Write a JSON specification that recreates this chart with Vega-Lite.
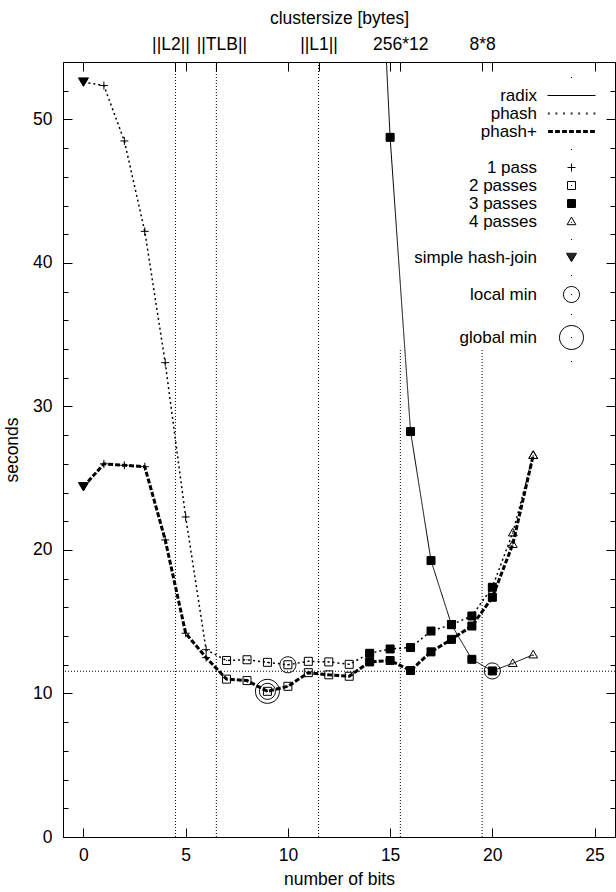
{
  "$schema": "https://vega.github.io/schema/vega-lite/v6.json",
  "width": 552,
  "height": 775,
  "autosize": {"type": "none"},
  "padding": {"left": 63, "top": 62, "right": 1, "bottom": 55},
  "background": "white",
  "config": {
    "view": {"stroke": "black", "strokeWidth": 1, "fill": "white"},
    "font": "Liberation Sans",
    "axis": {
      "grid": false, "domain": false, "tickColor": "black", "tickWidth": 1,
      "labelColor": "black", "titleColor": "black",
      "labelFont": "Liberation Sans", "titleFont": "Liberation Sans",
      "labelFontSize": 17.5, "titleFontSize": 17.5, "titleFontWeight": "normal",
      "labelOverlap": false, "labelFlush": false
    },
    "legend": {
      "padding": 0,
      "labelFontSize": 17,
      "labelFont": "Liberation Sans", "labelColor": "black", "labelLimit": 400
    }
  },
  "datasets": {
    "pts": [
      {"algo": "radix", "bits": 14, "sec": 78, "marker": "3 passes"},
      {"algo": "radix", "bits": 15, "sec": 48.75, "marker": "3 passes"},
      {"algo": "radix", "bits": 16, "sec": 28.25, "marker": "3 passes"},
      {"algo": "radix", "bits": 17, "sec": 19.26, "marker": "3 passes"},
      {"algo": "radix", "bits": 18, "sec": 14.8, "marker": "3 passes"},
      {"algo": "radix", "bits": 19, "sec": 12.38, "marker": "3 passes"},
      {"algo": "radix", "bits": 20, "sec": 11.57, "marker": "3 passes"},
      {"algo": "radix", "bits": 21, "sec": 12.1, "marker": "4 passes"},
      {"algo": "radix", "bits": 22, "sec": 12.7, "marker": "4 passes"},
      {"algo": "phash", "bits": 0, "sec": 52.6, "marker": "simple hash-join"},
      {"algo": "phash", "bits": 1, "sec": 52.36, "marker": "1 pass"},
      {"algo": "phash", "bits": 2, "sec": 48.5, "marker": "1 pass"},
      {"algo": "phash", "bits": 3, "sec": 42.2, "marker": "1 pass"},
      {"algo": "phash", "bits": 4, "sec": 33.05, "marker": "1 pass"},
      {"algo": "phash", "bits": 5, "sec": 22.3, "marker": "1 pass"},
      {"algo": "phash", "bits": 6, "sec": 13.05, "marker": "1 pass"},
      {"algo": "phash", "bits": 7, "sec": 12.3, "marker": "2 passes"},
      {"algo": "phash", "bits": 8, "sec": 12.35, "marker": "2 passes"},
      {"algo": "phash", "bits": 9, "sec": 12.17, "marker": "2 passes"},
      {"algo": "phash", "bits": 10, "sec": 12.0, "marker": "2 passes"},
      {"algo": "phash", "bits": 11, "sec": 12.24, "marker": "2 passes"},
      {"algo": "phash", "bits": 12, "sec": 12.2, "marker": "2 passes"},
      {"algo": "phash", "bits": 13, "sec": 12.03, "marker": "2 passes"},
      {"algo": "phash", "bits": 14, "sec": 12.8, "marker": "3 passes"},
      {"algo": "phash", "bits": 15, "sec": 13.1, "marker": "3 passes"},
      {"algo": "phash", "bits": 16, "sec": 13.2, "marker": "3 passes"},
      {"algo": "phash", "bits": 17, "sec": 14.35, "marker": "3 passes"},
      {"algo": "phash", "bits": 18, "sec": 14.8, "marker": "3 passes"},
      {"algo": "phash", "bits": 19, "sec": 15.4, "marker": "3 passes"},
      {"algo": "phash", "bits": 20, "sec": 17.4, "marker": "3 passes"},
      {"algo": "phash", "bits": 21, "sec": 21.2, "marker": "4 passes"},
      {"algo": "phash", "bits": 22, "sec": 26.6, "marker": "4 passes"},
      {"algo": "phash+", "bits": 0, "sec": 24.4, "marker": "simple hash-join"},
      {"algo": "phash+", "bits": 1, "sec": 26.0, "marker": "1 pass"},
      {"algo": "phash+", "bits": 2, "sec": 25.9, "marker": "1 pass"},
      {"algo": "phash+", "bits": 3, "sec": 25.8, "marker": "1 pass"},
      {"algo": "phash+", "bits": 4, "sec": 20.7, "marker": "1 pass"},
      {"algo": "phash+", "bits": 5, "sec": 14.2, "marker": "1 pass"},
      {"algo": "phash+", "bits": 6, "sec": 12.5, "marker": "1 pass"},
      {"algo": "phash+", "bits": 7, "sec": 11.0, "marker": "2 passes"},
      {"algo": "phash+", "bits": 8, "sec": 10.9, "marker": "2 passes"},
      {"algo": "phash+", "bits": 9, "sec": 10.15, "marker": "2 passes"},
      {"algo": "phash+", "bits": 10, "sec": 10.5, "marker": "2 passes"},
      {"algo": "phash+", "bits": 11, "sec": 11.45, "marker": "2 passes"},
      {"algo": "phash+", "bits": 12, "sec": 11.3, "marker": "2 passes"},
      {"algo": "phash+", "bits": 13, "sec": 11.2, "marker": "2 passes"},
      {"algo": "phash+", "bits": 14, "sec": 12.2, "marker": "3 passes"},
      {"algo": "phash+", "bits": 15, "sec": 12.3, "marker": "3 passes"},
      {"algo": "phash+", "bits": 16, "sec": 11.6, "marker": "3 passes"},
      {"algo": "phash+", "bits": 17, "sec": 12.9, "marker": "3 passes"},
      {"algo": "phash+", "bits": 18, "sec": 13.77, "marker": "3 passes"},
      {"algo": "phash+", "bits": 19, "sec": 14.7, "marker": "3 passes"},
      {"algo": "phash+", "bits": 20, "sec": 16.7, "marker": "3 passes"},
      {"algo": "phash+", "bits": 21, "sec": 20.4, "marker": "4 passes"},
      {"algo": "phash+", "bits": 22, "sec": 26.6, "marker": "4 passes"}
    ],
    "mins": [
      {"bits": 10, "sec": 12.0, "marker": "local min"},
      {"bits": 9, "sec": 10.15, "marker": "local min"},
      {"bits": 9, "sec": 10.15, "marker": "global min"},
      {"bits": 20, "sec": 11.57, "marker": "local min"}
    ],
    "vfull": [{"bits": 4.5}, {"bits": 6.5}, {"bits": 11.5}],
    "vpart": [{"bits": 15.5, "lo": 0, "hi": 34}, {"bits": 19.5, "lo": 0, "hi": 34}],
    "hline": [{"sec": 11.55}]
  },
  "resolve": {"axis": {"x": "independent", "y": "independent"}},
  "layer": [
    {
      "data": {"name": "vfull"},
      "mark": {"type": "rule", "color": "black", "strokeWidth": 1, "strokeDash": [1, 2]},
      "encoding": {
        "x": {"field": "bits", "type": "quantitative",
          "scale": {"domain": [-1, 26], "nice": false, "zero": false},
          "axis": {"orient": "bottom", "values": [0, 5, 10, 15, 20, 25], "offset": -9, "tickSize": 9, "labelPadding": 9.5, "title": "number of bits", "titlePadding": 6}}
      }
    },
    {
      "data": {"name": "vpart"},
      "mark": {"type": "rule", "color": "black", "strokeWidth": 1, "strokeDash": [1, 2]},
      "encoding": {
        "x": {"field": "bits", "type": "quantitative",
          "scale": {"domain": [-1, 26], "nice": false, "zero": false},
          "axis": {"orient": "top", "values": [0, 5, 10, 11.5, 15, 15.5, 19.5, 20, 25], "offset": -9, "tickSize": 9, "labelPadding": 9, "title": "clustersize [bytes]", "titlePadding": 8,
            "labelExpr": "datum.value === 11.5 ? '||L1||' : datum.value === 15.5 ? '256*12' : datum.value === 19.5 ? '8*8' : ''"}},
        "y": {"field": "lo", "type": "quantitative",
          "scale": {"domain": [0, 54], "nice": false, "zero": false},
          "axis": {"orient": "left", "values": [0, 10, 20, 30, 40, 50], "offset": -9, "tickSize": 9, "labelPadding": 11, "title": "seconds", "titlePadding": 11}},
        "y2": {"field": "hi"}
      }
    },
    {
      "data": {"name": "hline"},
      "mark": {"type": "rule", "color": "black", "strokeWidth": 1, "strokeDash": [1, 2]},
      "encoding": {
        "y": {"field": "sec", "type": "quantitative",
          "scale": {"domain": [0, 54], "nice": false, "zero": false},
          "axis": {"orient": "right", "values": [0, 10, 20, 30, 40, 50], "offset": -9, "tickSize": 9, "labels": false, "title": null}}
      }
    },
    {
      "data": {"name": "pts"},
      "mark": {"type": "line", "color": "black", "clip": true},
      "encoding": {
        "x": {"field": "bits", "type": "quantitative", "scale": {"domain": [-1, 26], "nice": false, "zero": false},
          "axis": {"orient": "top", "values": [4.5], "offset": -9, "tickSize": 9, "labelPadding": 9, "labelOffset": -5, "labelExpr": "'||L2||'", "title": null}},
        "y": {"field": "sec", "type": "quantitative",
          "scale": {"domain": [0, 54], "nice": false, "zero": false},
          "axis": {"orient": "left", "values": [0, 2, 4, 6, 8, 10, 12, 14, 16, 18, 20, 22, 24, 26, 28, 30, 32, 34, 36, 38, 40, 42, 44, 46, 48, 50, 52, 54], "offset": -5, "tickSize": 5, "labels": false, "title": null}},
        "detail": {"field": "algo", "type": "nominal"},
        "strokeDash": {"condition": [{"test": "datum.algo === 'phash+'", "value": [5, 2]}, {"test": "datum.algo === 'phash'", "value": [2, 3]}], "value": [1, 0]},
        "strokeWidth": {"condition": [{"test": "datum.algo === 'phash+'", "value": 3}, {"test": "datum.algo === 'phash'", "value": 1.5}], "value": 1}
      }
    },
    {
      "data": {"name": "pts"},
      "mark": {"type": "point", "clip": true, "opacity": 1, "strokeWidth": 1},
      "encoding": {
        "x": {"field": "bits", "type": "quantitative", "scale": {"domain": [-1, 26], "nice": false, "zero": false},
          "axis": {"orient": "top", "values": [6.5], "offset": -9, "tickSize": 9, "labelPadding": 9, "labelOffset": 5, "labelExpr": "'||TLB||'", "title": null}},
        "y": {"field": "sec", "type": "quantitative",
          "scale": {"domain": [0, 54], "nice": false, "zero": false},
          "axis": {"orient": "right", "values": [0, 2, 4, 6, 8, 10, 12, 14, 16, 18, 20, 22, 24, 26, 28, 30, 32, 34, 36, 38, 40, 42, 44, 46, 48, 50, 52, 54], "offset": -5, "tickSize": 5, "labels": false, "title": null}},
        "shape": {"field": "marker", "type": "nominal",
          "scale": {
            "domain": ["gap0", "radix", "phash", "phash+", "gap1", "1 pass", "2 passes", "3 passes", "4 passes", "gap2", "simple hash-join", "gap3", "local min", "gap4", "global min", "gap5"],
            "range": [
              "M-0.125,0H0.125",
              "M-6,0H6",
              "M-5.9,-0.12H-5.45M-5.9,0.12H-5.45M-4,-0.12H-3.55M-4,0.12H-3.55M-2.1,-0.12H-1.65M-2.1,0.12H-1.65M-0.2,-0.12H0.25M-0.2,0.12H0.25M1.7,-0.12H2.15M1.7,0.12H2.15M3.6,-0.12H4.05M3.6,0.12H4.05M5.5,-0.12H5.95M5.5,0.12H5.95",
              "M-5.85,-0.25H-4.65M-5.85,0H-4.65M-5.85,0.25H-4.65M-4.1,-0.25H-2.9M-4.1,0H-2.9M-4.1,0.25H-2.9M-2.35,-0.25H-1.15M-2.35,0H-1.15M-2.35,0.25H-1.15M-0.6,-0.25H0.6M-0.6,0H0.6M-0.6,0.25H0.6M1.15,-0.25H2.35M1.15,0H2.35M1.15,0.25H2.35M2.9,-0.25H4.1M2.9,0H4.1M2.9,0.25H4.1M4.65,-0.25H5.85M4.65,0H5.85M4.65,0.25H5.85",
              "M-0.125,0H0.125",
              "M-1,0H1M0,-1V1",
              "M-1,-1H1V1H-1ZM-0.125,0H0.125",
              "M-1,-1H1V1H-1ZM-1,-0.75H1M-1,-0.5H1M-1,-0.25H1M-1,0H1M-1,0.25H1M-1,0.5H1M-1,0.75H1",
              "M0,-1.1L1.1,0.8H-1.1ZM-0.125,0.2H0.125",
              "M-0.125,0H0.125",
              "M-1.25,-1.05H1.25L0,1.05ZM-1.1,-0.8H1.1M-0.95,-0.55H0.95M-0.8,-0.3H0.8M-0.65,-0.05H0.65M-0.5,0.2H0.5M-0.36,0.45H0.36M-0.2,0.7H0.2",
              "M-0.125,0H0.125",
              "M-2,0A2,2,0,1,0,2,0A2,2,0,1,0,-2,0ZM-0.125,0H0.125",
              "M-0.125,0H0.125",
              "M-3,0A3,3,0,1,0,3,0A3,3,0,1,0,-3,0ZM-0.125,0H0.125",
              "M-0.125,0H0.125"
            ]
          },
          "legend": {
            "title": null,
            "orient": "none", "legendX": 500, "legendY": 7,
            "direction": "vertical",
            "labelAlign": "right", "labelOffset": -43, "rowPadding": 0,
            "symbolStrokeColor": "black", "symbolFillColor": "transparent", "symbolOpacity": 1, "symbolSize": 64, "symbolStrokeWidth": 1,
            "labelExpr": "(indexof(datum.label, 'gap') === 0) ? '' : datum.label"
          }
        },
        "fill": {"condition": {"test": "datum.marker === '3 passes' || datum.marker === 'simple hash-join'", "value": "black"}, "value": "transparent"},
        "stroke": {"value": "black"},
        "size": {"value": 64}
      }
    },
    {
      "data": {"name": "mins"},
      "mark": {"type": "point", "clip": true, "opacity": 1, "strokeWidth": 1},
      "encoding": {
        "x": {"field": "bits", "type": "quantitative", "scale": {"domain": [-1, 26], "nice": false, "zero": false}, "axis": null},
        "y": {"field": "sec", "type": "quantitative", "scale": {"domain": [0, 54], "nice": false, "zero": false}, "axis": null},
        "shape": {"field": "marker", "type": "nominal"},
        "fill": {"value": "transparent"},
        "stroke": {"value": "black"},
        "size": {"value": 64}
      }
    }
  ]
}
